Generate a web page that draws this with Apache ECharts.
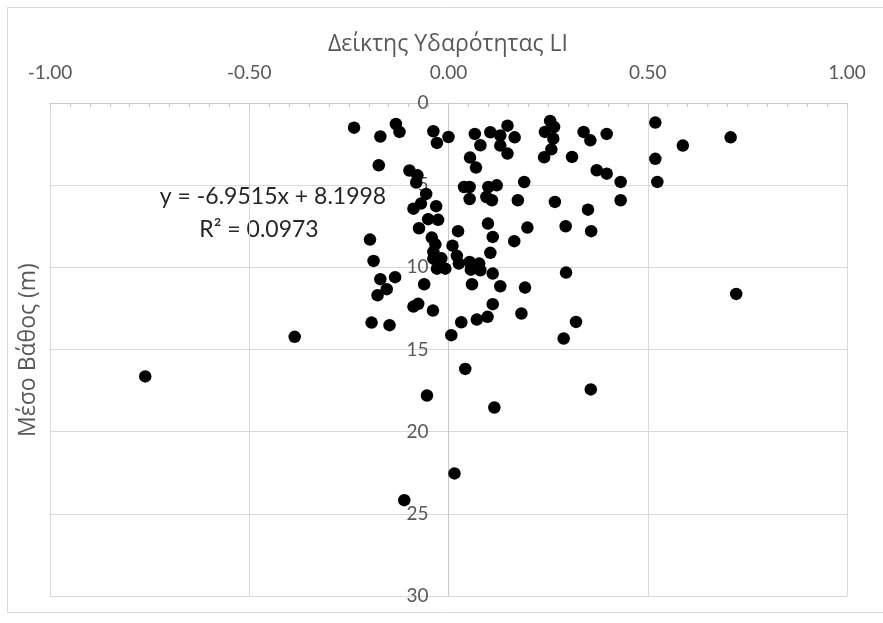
<!DOCTYPE html>
<html>
<head>
<meta charset="utf-8">
<script src="https://cdn.jsdelivr.net/npm/echarts@6/dist/echarts.min.js"></script>
<style>
html,body{margin:0;padding:0;background:#fff;}
#c{width:883px;height:623px;}
</style>
</head>
<body>
<div id="c"></div>
<script>
// Liquidity index (LI) values
const liValues = [
  -0.237,-0.171,-0.132,-0.123,-0.038,-0.029,0.000,-0.175,-0.098,-0.078,
  -0.081,-0.056,-0.031,-0.069,-0.088,-0.051,-0.026,-0.074,-0.042,-0.033,
  0.010,-0.038,-0.038,-0.018,-0.029,-0.008,-0.197,-0.188,-0.171,-0.134,
  -0.155,-0.178,-0.061,-0.088,-0.076,-0.039,-0.193,-0.148,0.007,-0.386,
  -0.761,-0.111,-0.054,
  0.066,0.080,0.105,0.130,0.148,0.166,0.130,0.148,0.255,0.242,
  0.265,0.263,0.258,0.240,0.054,0.069,0.024,0.021,0.026,0.039,
  0.053,0.053,0.100,0.121,0.095,0.109,0.190,0.174,0.267,0.099,
  0.111,0.198,0.165,0.105,0.053,0.056,0.077,0.080,0.111,0.059,
  0.130,0.192,0.111,0.098,0.071,0.032,0.183,0.042,0.115,0.015,
  0.339,0.356,0.397,0.519,0.588,0.708,0.519,0.524,0.310,0.372,
  0.397,0.432,0.432,0.350,0.294,0.358,0.295,0.722,0.320,0.289,0.357
];
// Mean depth (m)
const depthValues = [
  1.50,2.04,1.28,1.76,1.72,2.43,2.07,3.79,4.11,4.40,
  4.84,5.53,6.28,6.12,6.43,7.07,7.11,7.62,8.19,8.60,
  8.68,9.06,9.47,9.45,10.08,10.08,8.31,9.61,10.72,10.60,
  11.33,11.70,11.03,12.39,12.22,12.63,13.36,13.52,14.13,14.23,
  16.64,24.17,17.80,
  1.88,2.57,1.78,1.98,1.38,2.09,2.59,3.08,1.09,1.76,
  1.46,2.17,2.82,3.30,3.32,3.93,7.80,9.30,9.77,5.11,
  5.11,5.84,5.11,5.01,5.72,5.92,4.81,5.92,6.02,7.34,
  8.15,7.58,8.41,9.12,9.67,10.14,9.77,10.18,10.38,11.03,
  11.15,11.23,12.24,13.01,13.18,13.34,12.81,16.18,18.53,22.54,
  1.76,2.27,1.88,1.19,2.59,2.09,3.40,4.80,3.28,4.09,
  4.30,4.80,5.92,6.49,7.50,7.80,10.32,11.62,13.32,14.33,17.43
];
const xTitle = 'Δείκτης Υδαρότητας LI';
const yTitle = 'Μέσο Βάθος (m)';
const trendEquation = 'y = -6.9515x + 8.1998';
const trendR2 = 'R² = 0.0973';

const points = liValues.map((v, i) => [v, depthValues[i]]);
const FONT = 'Lato';
const GREEK_FONT = '"Open Sans", "Noto Sans", sans-serif';
const GRID_LEFT = 50;
const chart = echarts.init(document.getElementById('c'), null, {renderer: 'canvas'});
chart.setOption({
  backgroundColor: '#ffffff',
  animation: false,
  textStyle: {fontFamily: FONT},
  grid: {left: GRID_LEFT, right: 36, top: 103, bottom: 27},
  xAxis: {
    type: 'value', position: 'top', min: -1, max: 1, interval: 0.5,
    axisLine: {show: true, onZero: false, lineStyle: {color: '#c8c8c8', width: 1}},
    axisTick: {show: true, inside: true, length: 4, lineStyle: {color: '#c8c8c8'}},
    minorTick: {show: true, splitNumber: 10, length: 4, lineStyle: {color: '#c8c8c8'}},
    axisLabel: {color: '#595959', fontSize: 19, margin: 21, formatter: v => v.toFixed(2)},
    splitLine: {show: true, lineStyle: {color: '#d9d9d9', width: 1}}
  },
  yAxis: {
    type: 'value', inverse: true, min: 0, max: 30, interval: 5,
    axisLine: {show: true, onZero: false, lineStyle: {color: '#c8c8c8', width: 1}},
    axisTick: {show: false},
    axisLabel: {color: '#595959', fontSize: 19, margin: 20},
    splitLine: {show: true, lineStyle: {color: '#d9d9d9', width: 1}}
  },
  graphic: [
    {type: 'rect', shape: {x: 7.5, y: 7.5, width: 900, height: 605}, style: {fill: 'none', stroke: '#d9d9d9', lineWidth: 1}, silent: true},
    {type: 'text', x: 448, y: 44,
      style: {text: xTitle, fill: '#595959', font: '23px ' + GREEK_FONT, align: 'center', verticalAlign: 'middle'}},
    {type: 'text', x: 28, y: 350, rotation: Math.PI / 2,
      style: {text: yTitle, fill: '#595959', font: '23px ' + GREEK_FONT, align: 'center', verticalAlign: 'middle'}},
    {type: 'text', x: 273, y: 197,
      style: {text: trendEquation, fill: '#262626', font: '23px ' + FONT, align: 'center', verticalAlign: 'middle'}},
    {type: 'text', x: 259, y: 230,
      style: {text: trendR2, fill: '#262626', font: '23px ' + FONT, align: 'center', verticalAlign: 'middle'}}
  ],
  series: [{
    type: 'scatter', data: points, symbol: 'circle', symbolSize: 12.5,
    itemStyle: {color: '#000000', opacity: 1}
  }]
});
// place the vertical axis where LI = 0 (Excel "axis crosses at 0")
const zeroPx = chart.convertToPixel({xAxisIndex: 0}, 0);
chart.setOption({yAxis: {offset: -(zeroPx - GRID_LEFT)}});
</script>
</body>
</html>
